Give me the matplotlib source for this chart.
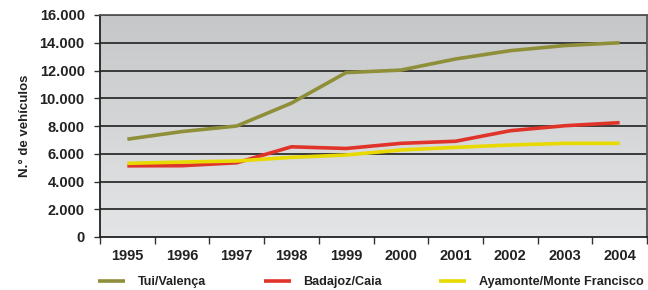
import matplotlib
matplotlib.use("Agg")
import matplotlib.pyplot as plt
import numpy as np

years = ["1995", "1996", "1997", "1998", "1999", "2000", "2001", "2002", "2003", "2004"]
tui = [7050, 7600, 8000, 9650, 11850, 12030, 12830, 13430, 13800, 14000]
badajoz = [5130, 5140, 5350, 6500, 6380, 6750, 6900, 7660, 8020, 8240]
ayamonte = [5310, 5400, 5480, 5740, 5910, 6270, 6460, 6630, 6750, 6750]
names = ["Tui/Valença", "Badajoz/Caia", "Ayamonte/Monte Francisco"]
colors = ["#8f8f3a", "#e0342a", "#e8d900"]

plt.rcParams['font.family'] = ['Liberation Sans', 'DejaVu Sans']
plt.rcParams['font.weight'] = 'bold'

fig = plt.figure(figsize=(6.48, 2.9), dpi=100)
ax = fig.add_axes([100/648, 53/290, 547/648, 222/290])

# gradient background, darker at top
grad = np.linspace(0, 1, 256).reshape(-1, 1)
cmap = matplotlib.colors.LinearSegmentedColormap.from_list("bg", ["#c6c7c9", "#e4e5e7"])
ax.imshow(grad, extent=[0, 1, 0, 1], transform=ax.transAxes, cmap=cmap,
          aspect='auto', zorder=0)

x = np.arange(len(years))
lines = []
for vals, c, n in zip([tui, badajoz, ayamonte], colors, names):
    ln, = ax.plot(x, vals, color=c, lw=2.6, label=n, zorder=3, solid_capstyle='butt')
    lines.append(ln)

ax.set_xlim(-0.5, len(years) - 0.5)
ax.set_ylim(0, 16000)
ax.set_yticks(range(0, 16001, 2000))
ax.set_yticklabels(["0" if v == 0 else f"{v//1000}.000" for v in range(0, 16001, 2000)])
for v in range(2000, 16001, 2000):
    ax.axhline(v, color="#2e2e2e", lw=1.3, zorder=2)

ax.set_xticks(x)
ax.set_xticklabels(years)
ax.set_xticks(np.arange(-0.5, len(years), 1), minor=True)
ax.tick_params(axis='x', which='major', length=0, pad=9)
ax.tick_params(axis='x', which='minor', length=5, width=1, color="#333333", direction='out')
ax.tick_params(axis='y', length=4, width=1, color="#333333", direction='out', pad=7)
ax.tick_params(labelsize=10.5, labelcolor="#222222")

for s in ax.spines.values():
    s.set_color("#555555")
    s.set_linewidth(1.3)
ax.spines['left'].set_color("#222222")
ax.spines['bottom'].set_color("#222222")

ax.set_ylabel("N.° de vehículos", fontsize=9.5, color="#222222", fontweight='bold', labelpad=6)

# legend entries placed individually along the bottom
leg_x = [87, 253, 428]
for ln, lx in zip(lines, leg_x):
    leg = fig.legend(handles=[ln], loc='lower left', bbox_to_anchor=(lx/648, -0.033),
                     frameon=False, fontsize=9.1, handlelength=2.1, handletextpad=1.0)
    for t in leg.get_texts():
        t.set_color("#222222")

fig.savefig("out.png", dpi=100)
